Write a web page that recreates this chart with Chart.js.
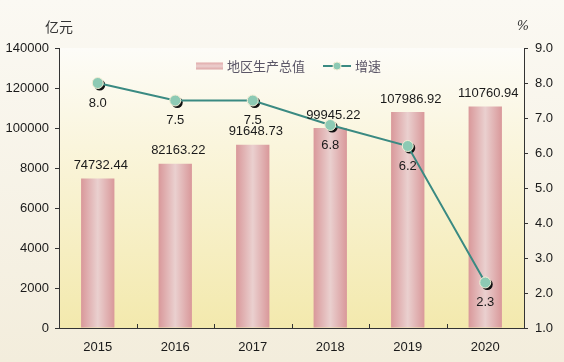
<!DOCTYPE html>
<html>
<head>
<meta charset="utf-8">
<script src="https://cdn.jsdelivr.net/npm/chart.js@4"></script>
<style>
  html, body { margin: 0; padding: 0; background: #f4efe1; }
  #wrap { width: 564px; height: 362px; }
</style>
</head>
<body>
<div id="wrap"><canvas id="gdpChart" width="564" height="362"></canvas></div>
<script>
const years = ['2015', '2016', '2017', '2018', '2019', '2020'];
const gdp = [74732.44, 82163.22, 91648.73, 99945.22, 107986.92, 110760.94];
const growth = [8.0, 7.5, 7.5, 6.8, 6.2, 2.3];
const leftTicks = ['0', '2000', '4000', '6000', '8000', '100000', '120000', '140000'];
const rightTicks = ['1.0', '2.0', '3.0', '4.0', '5.0', '6.0', '7.0', '8.0', '9.0'];

const numFont = '13px "Liberation Sans", Arial, sans-serif';
const cjkFont = '"Noto Sans CJK SC", sans-serif';

const BAR_PCT = 0.43;

// background, plot gradient and inward x ticks
const backdrop = {
  id: 'backdrop',
  beforeDraw(chart) {
    const { ctx, chartArea: a, width, height } = chart;
    ctx.save();
    let g = ctx.createLinearGradient(0, 0, 0, height);
    g.addColorStop(0, '#fbf9f3');
    g.addColorStop(1, '#f3eddc');
    ctx.fillStyle = g;
    ctx.fillRect(0, 0, width, height);
    g = ctx.createLinearGradient(0, a.top, 0, a.bottom);
    g.addColorStop(0, '#fdfcf8');
    g.addColorStop(0.35, '#faf5dc');
    g.addColorStop(1, '#f3e9ad');
    ctx.fillStyle = g;
    ctx.fillRect(a.left, a.top, a.right - a.left, a.bottom - a.top);
    ctx.restore();
  },
  afterDraw(chart) {
    const { ctx, chartArea: a, scales } = chart;
    ctx.save();
    ctx.strokeStyle = '#333';
    ctx.lineWidth = 1;
    for (let i = 1; i < years.length; i++) {
      const x = Math.round(scales.x.getPixelForValue(i - 0.5)) + 0.5;
      ctx.beginPath();
      ctx.moveTo(x, a.bottom);
      ctx.lineTo(x, a.bottom - 4);
      ctx.stroke();
    }
    // axis titles
    ctx.fillStyle = '#333';
    ctx.font = '14px ' + cjkFont;
    ctx.textAlign = 'center';
    ctx.textBaseline = 'middle';
    ctx.fillText('亿元', 59, 27);
    ctx.font = 'italic 13px "DejaVu Serif", serif';
    ctx.fillText('%', 523, 27);

    // legend
    const ly = 66;
    let g = ctx.createLinearGradient(0, ly - 4, 0, ly + 4);
    g.addColorStop(0, '#dfa3a3');
    g.addColorStop(0.5, '#ecd0cf');
    g.addColorStop(1, '#dba0a0');
    ctx.fillStyle = g;
    ctx.fillRect(196, ly - 3.5, 27, 7);
    ctx.fillStyle = '#5a5566';
    ctx.font = '13px ' + cjkFont;
    ctx.textAlign = 'left';
    ctx.fillText('地区生产总值', 227, ly);
    ctx.strokeStyle = '#3a8a82';
    ctx.lineWidth = 2;
    ctx.beginPath();
    ctx.moveTo(323, ly);
    ctx.lineTo(351, ly);
    ctx.stroke();
    ctx.beginPath();
    ctx.arc(337, ly, 4, 0, Math.PI * 2);
    ctx.fillStyle = '#8dcab4';
    ctx.fill();
    ctx.strokeStyle = '#f2eed5';
    ctx.lineWidth = 1;
    ctx.stroke();
    ctx.fillStyle = '#5a5566';
    ctx.fillText('增速', 355, ly);
    ctx.restore();
  }
};

// point shadows and value labels
const labels = {
  id: 'labels',
  beforeDatasetDraw(chart, args) {
    if (args.index !== 1) return;
    const { ctx } = chart;
    const meta = chart.getDatasetMeta(1);
    ctx.save();
    ctx.fillStyle = '#111';
    meta.data.forEach(p => {
      ctx.beginPath();
      ctx.arc(p.x + 2, p.y + 2, 5.5, 0, Math.PI * 2);
      ctx.fill();
    });
    ctx.restore();
  },
  afterDatasetsDraw(chart) {
    const { ctx } = chart;
    ctx.save();
    ctx.font = numFont;
    ctx.fillStyle = '#1a1a1a';
    ctx.textAlign = 'center';
    ctx.textBaseline = 'middle';
    chart.getDatasetMeta(0).data.forEach((b, i) => {
      ctx.fillText(gdp[i].toFixed(2), b.x + 3, b.y - 13);
    });
    chart.getDatasetMeta(1).data.forEach((p, i) => {
      ctx.fillText(growth[i].toFixed(1), p.x, p.y + 20);
    });
    ctx.restore();
  }
};

function barFill(context) {
  const chart = context.chart;
  const xs = chart.scales.x;
  if (!xs || !chart.chartArea) return '#dea5a5';
  const cx = xs.getPixelForValue(context.dataIndex);
  const w = (xs.width / years.length) * BAR_PCT;
  const g = chart.ctx.createLinearGradient(cx - w / 2, 0, cx + w / 2, 0);
  g.addColorStop(0, '#d9989a');
  g.addColorStop(0.5, '#ead0cf');
  g.addColorStop(1, '#d9989a');
  return g;
}

new Chart(document.getElementById('gdpChart').getContext('2d'), {
  data: {
    labels: years,
    datasets: [
      {
        type: 'bar',
        label: '地区生产总值',
        data: gdp,
        yAxisID: 'y',
        backgroundColor: barFill,
        borderWidth: 0,
        barPercentage: BAR_PCT,
        categoryPercentage: 1,
        order: 2
      },
      {
        type: 'line',
        label: '增速',
        data: growth,
        yAxisID: 'y1',
        borderColor: '#3a8a82',
        borderWidth: 2,
        pointRadius: 5.5,
        pointBackgroundColor: '#8dcab4',
        pointBorderColor: '#f2eed5',
        pointBorderWidth: 1,
        tension: 0,
        order: 1
      }
    ]
  },
  options: {
    responsive: false,
    animation: false,
    layout: { padding: { top: 48, left: 0, right: 0, bottom: 0 } },
    plugins: {
      legend: { display: false },
      tooltip: { enabled: false }
    },
    scales: {
      x: {
        grid: { display: false, drawTicks: false },
        border: { color: '#333', width: 1 },
        ticks: { color: '#1a1a1a', font: { family: '"Liberation Sans", Arial, sans-serif', size: 13 }, padding: 12 },
        afterFit(s) { s.height = 34; }
      },
      y: {
        position: 'left',
        min: 0,
        max: 140000,
        ticks: {
          stepSize: 20000,
          color: '#1a1a1a',
          font: { family: '"Liberation Sans", Arial, sans-serif', size: 13 },
          padding: 6,
          callback: (v) => leftTicks[Math.round(v / 20000)]
        },
        grid: { drawOnChartArea: false, tickLength: 4, color: '#333' },
        border: { color: '#333', width: 1 },
        afterFit(s) { s.width = 59; }
      },
      y1: {
        position: 'right',
        min: 1,
        max: 9,
        ticks: {
          stepSize: 1,
          color: '#1a1a1a',
          font: { family: '"Liberation Sans", Arial, sans-serif', size: 13 },
          padding: 7,
          callback: (v) => rightTicks[Math.round(v - 1)]
        },
        grid: { drawOnChartArea: false, tickLength: 4, color: '#333' },
        border: { color: '#333', width: 1 },
        afterFit(s) { s.width = 40; }
      }
    }
  },
  plugins: [backdrop, labels]
});
</script>
</body>
</html>
